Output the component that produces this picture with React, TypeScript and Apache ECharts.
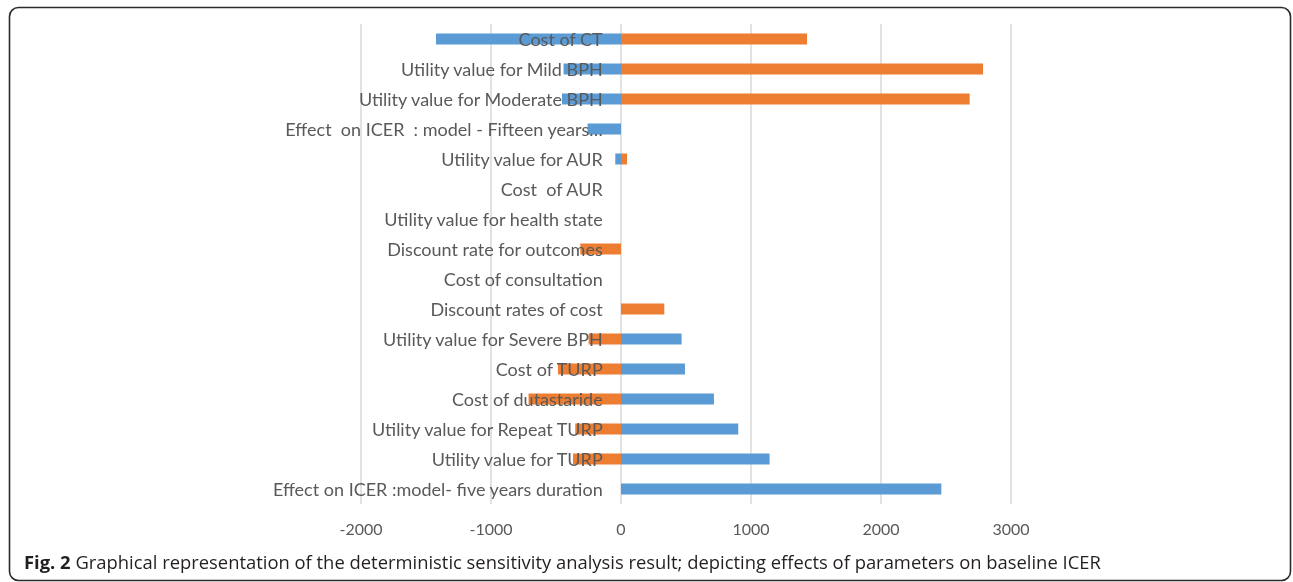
import React, { useEffect, useRef } from "react";
import * as echarts from "echarts";

const categories = [
  "Effect on ICER :model- five years duration",
  "Utility value for TURP",
  "Utility value for Repeat TURP",
  "Cost of dutastaride",
  "Cost of TURP",
  "Utility value for Severe BPH",
  "Discount rates of cost",
  "Cost of consultation",
  "Discount rate for outcomes",
  "Utility value for health state",
  "Cost  of AUR",
  "Utility value for AUR",
  "Effect  on ICER  : model - Fifteen years…",
  "Utility value for Moderate BPH",
  "Utility value for Mild BPH",
  "Cost of CT",
];

// listed bottom to top, same order as categories
const blueValues = [2464, 1143, 902, 715, 492, 466, 0, 0, 0, 0, 0, -44, -257, -454, -442, -1423];
const orangeValues = [0, -369, -352, -711, -485, -249, 333, 0, -313, 0, 0, 46, 0, 2682, 2785, 1431];

const xTicks = { min: -2000, max: 3000, interval: 1000 };
const caption = {
  bold: "Fig. 2",
  text: " Graphical representation of the deterministic sensitivity analysis result; depicting effects of parameters on baseline ICER",
};

export default function App() {
  const ref = useRef<HTMLDivElement>(null);
  useEffect(() => {
    if (!ref.current) return;
    const chart = echarts.init(ref.current, null, { renderer: "svg" });
    chart.setOption({
      animation: false,
      grid: { left: 361, top: 24, width: 650, height: 480, containLabel: false },
      xAxis: {
        type: "value",
        min: xTicks.min,
        max: xTicks.max,
        interval: xTicks.interval,
        axisLine: { show: false },
        axisTick: { show: false },
        axisLabel: {
          color: "#595959",
          fontSize: 16,
          fontFamily: "Lato",
          margin: 16,
          formatter: (v: number) => String(v),
        },
        splitLine: { lineStyle: { color: "#d9d9d9", width: 1.5 } },
      },
      yAxis: {
        type: "category",
        data: categories,
        offset: -259.7,
        z: 10,
        axisLine: { show: false },
        axisTick: { show: false },
        splitLine: { show: false },
        axisLabel: { color: "#595959", fontSize: 18, fontFamily: "Lato", margin: 18, interval: 0 },
      },
      series: [
        {
          type: "bar",
          data: blueValues,
          barWidth: 11,
          barGap: "-100%",
          itemStyle: { color: "#5B9BD5" },
        },
        {
          type: "bar",
          data: orangeValues,
          barWidth: 11,
          barGap: "-100%",
          itemStyle: { color: "#ED7D31" },
        },
      ],
      graphic: [
        {
          type: "rect",
          shape: { x: 9.5, y: 7.5, width: 1281, height: 573, r: 9 },
          style: { fill: "none", stroke: "#2b2b2b", lineWidth: 1.6 },
          silent: true,
        },
        {
          type: "text",
          x: 24,
          y: 561,
          style: {
            text: "{b|" + caption.bold + "}{n|" + caption.text + "}",
            verticalAlign: "middle",
            rich: {
              b: { fontFamily: "Open Sans", fontWeight: "bold", fontSize: 18.4, fill: "#231f20" },
              n: { fontFamily: "Open Sans", fontSize: 18.4, fill: "#231f20" },
            },
          },
        },
      ],
    });
    return () => chart.dispose();
  }, []);
  return <div ref={ref} style={{ position: "fixed", left: 0, top: 0, width: 1293, height: 582 }} />;
}
